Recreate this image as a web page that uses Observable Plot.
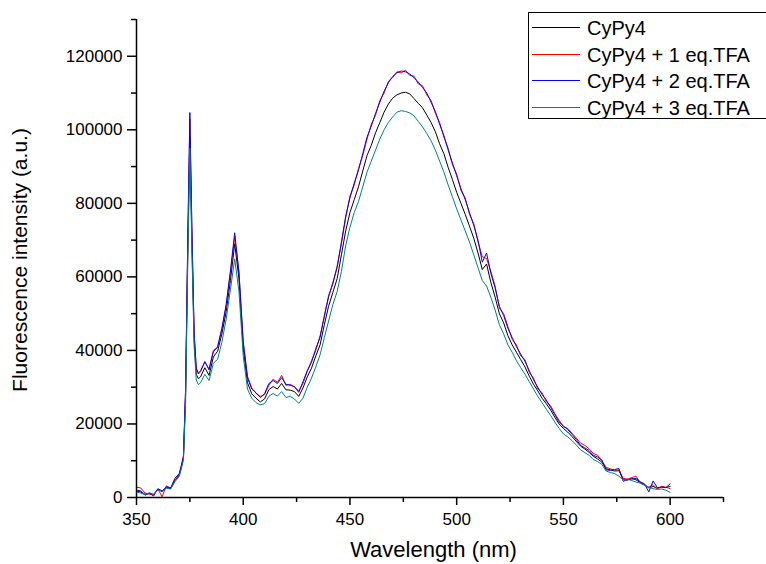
<!DOCTYPE html>
<html>
<head>
<meta charset="utf-8">
<script src="https://cdn.jsdelivr.net/npm/d3@7"></script>
<script src="https://cdn.jsdelivr.net/npm/@observablehq/plot@0.6"></script>
<style>
  html, body { margin: 0; padding: 0; background: #fff; }
  #chart { position: relative; width: 766px; height: 564px; }
  svg { font-family: "Liberation Sans", Arial, sans-serif; }
</style>
</head>
<body>
<div id="chart"></div>
<script>
// Wavelengths (nm)
const wavelength = [350,352,354,356,358,360,362,364,366,368,370,371,372,373,374,375,376,377,378,379,
380,382,384,386,388,390,392,394,396,398,400,402,404,406,408,410,412,414,416,418,
420,422,424,426,428,430,432,434,436,438,440,442,444,446,448,450,452,454,456,458,
460,462,464,466,468,470,472,474,476,478,480,482,484,486,488,490,492,494,496,498,
500,502,504,506,508,510,512,514,516,518,520,522,524,526,528,530,532,534,536,538,
540,542,544,546,548,550,552,554,556,558,560,562,564,566,568,570,572,574,576,578,
580,582,584,586,588,590,592,594,596,598,600];

const cypy4 = [1800,1500,900,1100,700,2200,1600,2700,2400,4600,6000,8200,10800,28000,66000,98000,68000,43000,33500,32300,
32800,35300,33200,38200,39800,44500,50500,59000,69000,59500,40500,31200,28200,27000,26000,26800,29300,30200,29500,31000,
29300,29200,28800,27500,29800,32800,35200,38500,41500,47000,52000,55800,59500,66000,72500,77500,81000,84500,88800,93000,
95800,99200,102000,104800,107000,108600,109500,110000,110200,109800,108500,107200,106000,104000,102000,99500,96200,93500,89800,86500,
83000,80000,77000,73800,70500,66500,62000,63500,58500,54500,50000,47500,44000,41500,39500,37500,35500,33000,30800,29000,
27000,25500,23800,21800,20000,18800,17800,16600,15300,14000,13200,12300,11200,10500,9600,7800,7500,7200,7300,5000,
4700,5200,4800,4100,3500,2600,3000,2500,2900,2700,3000];

const tfa1 = [2800,2600,1200,900,800,2300,200,3200,2500,4800,6200,8800,11500,29000,68000,103000,71000,44500,35200,33900,
34500,36800,35000,40000,40800,45800,52000,61000,71000,61500,42500,33000,29800,28300,27500,28000,30500,32200,31300,33200,
30500,30800,30000,29000,31000,34300,37200,40000,44000,49000,55000,58000,63000,69000,76000,82000,85000,89500,93000,97500,
101500,104000,108000,110000,113200,114200,115800,115500,116200,114800,114600,112500,112000,109500,108000,104500,102000,98000,95000,90500,
88000,83500,81500,77000,74500,69500,65500,65000,61500,57500,51500,50000,46500,43000,41500,38500,37500,34000,32500,29500,
28500,26000,25000,22800,21000,19200,18800,17500,16200,14800,14200,13300,12000,11500,10000,8200,7800,7400,7500,5200,
5000,5400,5800,4000,3400,2800,3500,2300,3000,2800,2400];

const tfa2 = [2000,1800,600,1200,400,2400,1800,2900,2600,5200,6500,8500,11000,30000,70000,104700,72000,45000,35000,33600,
34200,37000,34700,39600,41000,46000,52500,61600,72000,61000,42000,32500,29500,28500,27200,28200,31000,31800,31000,32600,
30800,30500,30200,28600,31500,34500,36800,40500,43500,49500,54500,58500,62500,69500,76500,81500,85500,89000,93500,98000,
101000,104500,107500,110500,112800,114500,115500,116000,115800,115200,114200,113000,111500,110000,107500,105000,101500,98500,94500,91000,
87500,84000,81000,77500,74000,70000,64000,66500,61000,57000,52000,49500,46000,43500,41000,39000,37000,34500,32000,30000,
28000,26500,24500,22500,20500,19500,18500,17200,15800,14200,13500,12800,11500,11000,10200,7500,7400,7600,7900,4400,
4900,5000,5200,4300,3700,1500,4500,2700,2800,2700,3700];

const tfa3 = [1500,1200,800,1300,900,2000,1700,2500,2300,4300,5700,7800,10300,26000,63000,95000,66000,41000,32000,30700,
31200,33500,31800,36500,37600,42200,48500,56500,64900,56000,38500,29500,27000,25800,25200,25500,27500,28300,27600,28800,
27200,27500,26800,25600,27000,30000,32500,35500,38800,43500,48000,52500,56000,61500,68500,73500,77500,80500,84500,88500,
91500,94500,97500,100000,102000,103500,104800,105200,105000,104600,103800,102300,100800,99000,97000,94500,91500,88500,85000,81800,
78500,75500,72500,69500,66000,62500,59000,57500,54500,51000,47000,44500,41500,39500,37200,35300,33500,31500,29500,27500,
25800,24000,22300,20500,18800,17300,16500,15500,14300,13000,12200,11500,10300,9800,9000,7200,6800,6500,5800,4800,
5000,4600,4200,3900,3300,2800,2400,2200,2300,2000,1400];

const seriesNames = ["CyPy4", "CyPy4 + 1 eq.TFA", "CyPy4 + 2 eq.TFA", "CyPy4 + 3 eq.TFA"];
const seriesColors = ["#000000", "#ff0000", "#0000ff", "#008080"];
const seriesValues = [cypy4, tfa1, tfa2, tfa3];

const xMajor = [350, 400, 450, 500, 550, 600];
const xMinor = [375, 425, 475, 525, 575, 625];
const yMajor = [0, 20000, 40000, 60000, 80000, 100000, 120000];
const yMinor = [10000, 30000, 50000, 70000, 90000, 110000, 130000];

const xLabel = "Wavelength (nm)";
const yLabel = "Fluorescence intensity (a.u.)";

const W = 766, H = 564;
const mL = 136, mR = 43, mT = 19, mB = 67;

const table = seriesValues.map((vals, si) =>
  wavelength.map((w, i) => ({wl: w, v: vals[i], s: seriesNames[si]})));

const chart = Plot.plot({
  width: W, height: H,
  marginLeft: mL, marginRight: mR, marginTop: mT, marginBottom: mB,
  style: {fontFamily: '"Liberation Sans", Arial, sans-serif', background: "#fff", color: "#000"},
  x: {domain: [350, 625]},
  y: {domain: [0, 130000]},
  marks: [
    ...table.map((d, si) => Plot.line(d, {x: "wl", y: "v", stroke: seriesColors[si], strokeWidth: 1})),
    Plot.axisX({ticks: xMajor, tickSize: 8, tickPadding: 7, tickFormat: d3.format("d"), fontSize: 17, label: null, strokeWidth: 1.5}),
    Plot.axisX({ticks: xMinor, tickSize: 5, tickFormat: () => "", label: null, strokeWidth: 1.5}),
    Plot.axisY({ticks: yMajor, tickSize: 9, tickPadding: 5, tickFormat: d3.format("d"), fontSize: 17, label: null, strokeWidth: 1.5}),
    Plot.axisY({ticks: yMinor, tickSize: 5, tickFormat: () => "", label: null, strokeWidth: 1.5}),
    Plot.ruleY([0], {strokeWidth: 1.5}),
    Plot.ruleX([350], {strokeWidth: 1.5})
  ]
});

const svg = d3.select(chart);
svg.append("text")
  .attr("x", (mL + 723) / 2 + 4).attr("y", 557)
  .attr("text-anchor", "middle").attr("font-size", 22).attr("fill", "#000")
  .text(xLabel);
svg.append("text")
  .attr("transform", `translate(27, ${(mT + 497) / 2 + 2}) rotate(-90)`)
  .attr("text-anchor", "middle").attr("font-size", 21).attr("fill", "#000")
  .text(yLabel);

// Legend
const lg = svg.append("g").attr("text-anchor", "start");
lg.append("rect").attr("x", 528.5).attr("y", 12.5).attr("width", 250).attr("height", 106)
  .attr("fill", "#fff").attr("stroke", "#000").attr("stroke-width", 1);
seriesNames.forEach((name, i) => {
  const cy = Math.round(27 + i * 26.5) + 0.5;
  lg.append("line").attr("x1", 532).attr("x2", 580).attr("y1", cy).attr("y2", cy)
    .style("stroke", seriesColors[i]).attr("stroke-width", 1);
  lg.append("text").attr("x", 587).attr("y", cy + 7).attr("font-size", 20)
    .attr("text-anchor", "start").attr("fill", "#000").text(name);
});

document.getElementById("chart").appendChild(chart);
</script>
</body>
</html>
